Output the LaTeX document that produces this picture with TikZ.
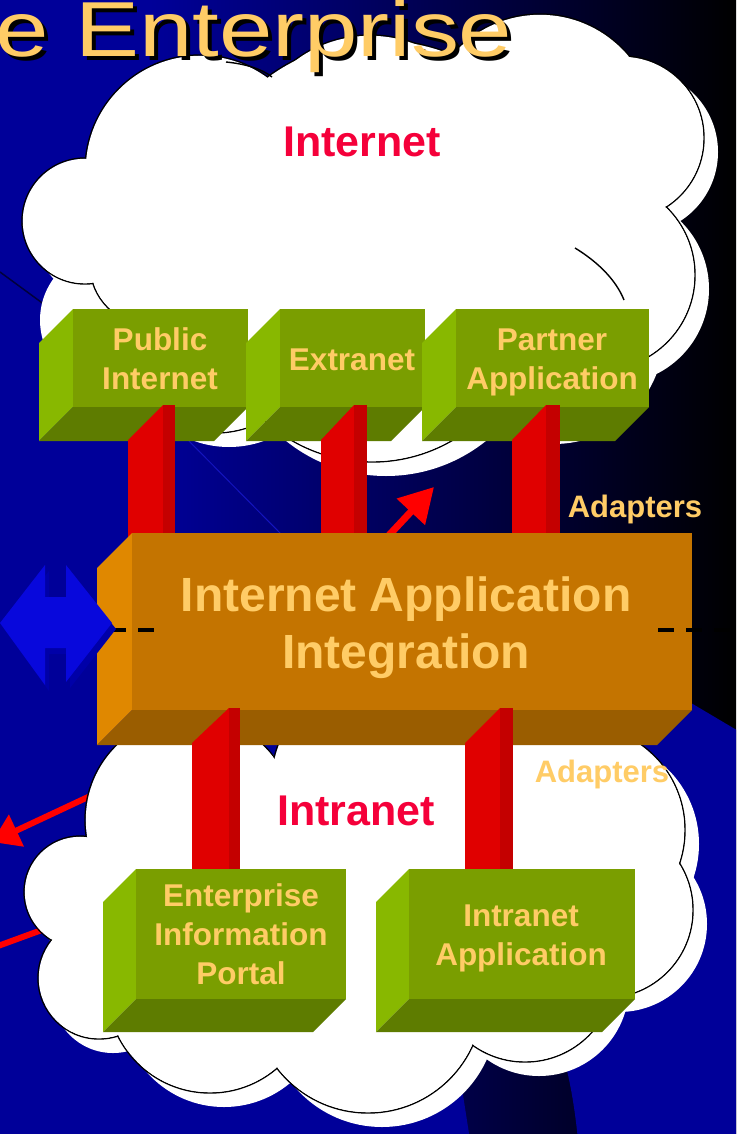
\documentclass[tikz,border=0pt]{standalone}
\usepackage{fontspec}
\usepackage{graphicx}
\setmainfont{Liberation Sans}
\usetikzlibrary{arrows.meta}
\definecolor{bgblue}{HTML}{000099}
\definecolor{ttl}{HTML}{FFCC66}
\definecolor{lbl}{HTML}{F5003A}
\definecolor{gfront}{HTML}{7A9E00}
\definecolor{gleft}{HTML}{88B800}
\definecolor{gbot}{HTML}{5E7C00}
\definecolor{ofront}{HTML}{C47400}
\definecolor{oleft}{HTML}{E08800}
\definecolor{obot}{HTML}{9A5D00}
\definecolor{pred}{HTML}{E00000}
\definecolor{pdark}{HTML}{C40000}
\definecolor{arred}{HTML}{FF0000}
\definecolor{ablue}{HTML}{0808DC}
\definecolor{ablued}{HTML}{0000A8}
\definecolor{faintline}{HTML}{00003C}
\definecolor{lightline}{HTML}{1414BE}

\newcommand\boxthree[8]{%
  \fill[#7] ({#1-#5},{#2+#5}) -- (#1,#2) -- (#1,#4) -- ({#1-#5},{#4+#5}) -- cycle;
  \fill[#8] (#1,#4) -- (#3,#4) -- ({#3-#5},{#4+#5}) -- ({#1-#5},{#4+#5}) -- cycle;
  \fill[#6] (#1,#2) rectangle (#3,#4);}
\newcommand\pillarbar[6]{%
  \fill[pred] (#1,#5) -- (#2,#4) -- (#2,#6) -- (#1,#6) -- cycle;
  \fill[pdark] (#2,#4) rectangle (#3,#6);}
\newcommand\cloudshape[2]{%
  \foreach \cx/\cy/\rr in {#1} \fill[white] ({\cx+14},{\cy+14}) circle[radius=\rr pt];
  \foreach \cx/\cy/\rr in {#2} \fill[white] (\cx,\cy) circle[radius=\rr pt];
  \foreach \cx/\cy/\rr in {#1} \draw[black,line width=1.4pt] (\cx,\cy) circle[radius=\rr pt];
  \foreach \cx/\cy/\rr in {#1} \fill[white] (\cx,\cy) circle[radius={\rr pt-0.8pt}];}

\tikzset{
  boxlabel/.style={inner sep=0pt, anchor=base, align=center, text=ttl,
    font=\fontsize{31.5}{39}\selectfont\bfseries},
  biglabel/.style={inner sep=0pt, anchor=base, align=center, text=ttl,
    font=\fontsize{48}{57}\selectfont\bfseries},
  adlabel/.style={inner sep=0pt, anchor=base, text=ttl,
    font=\fontsize{31}{36}\selectfont\bfseries},
  cloudlabel/.style={inner sep=0pt, anchor=base, text=lbl,
    font=\fontsize{43}{50}\selectfont\bfseries},
  redarrow/.style={draw=arred, line width=7pt, -{Triangle[length=34pt,width=37pt]}},
  redline/.style={draw=arred, line width=6pt},
  dashline/.style={draw=black, line width=4pt, dash pattern=on 16pt off 12pt},
  innerarc/.style={draw=black, line width=1.4pt},
}

\begin{document}
\begin{tikzpicture}[x=1pt,y=-1pt]
\useasboundingbox (0,0) rectangle (736,1134);
\clip (0,0) rectangle (736,1134);

% background
\fill[bgblue] (0,0) rectangle (151,1134);
\shade[left color=bgblue, right color=black] (150,0) rectangle (736,1134);
\fill[bgblue] (686,700) -- (740,732) -- (740,1140) -- (578,1140)
  .. controls (574,1100) and (568,1070) .. (560,1045) -- (470,760) -- cycle;
\fill[bgblue] (140,690) -- (400,690) -- (470,1140) -- (140,1140) -- cycle;
\draw[faintline, line width=1.5pt] (0,272) -- (45,305);
\draw[lightline, line width=1pt] (186,438) -- (282,535);

% red arrows behind the intranet cloud
\coordinate (a2s) at (150,768);
\coordinate (a2e) at (-8,842);
\coordinate (a3s) at (-2,946);
\coordinate (a3e) at (80,916);
\draw[redarrow, line width=6pt, -{Triangle[length=27pt,width=34pt]}] (a2s) -- (a2e);
\draw[redline] (a3s) -- (a3e);

% clouds
\cloudshape{200/170/115, 370/160/125, 540/130/116, 622/138/82, 600/275/95, 85/221/63, 150/265/60, 215/330/103, 372/302/160, 540/320/110, 380/230/190}{110/320/70}
\draw[innerarc] (575,248) .. controls (598,262) and (616,280) .. (624,300);
\draw[innerarc] (226,62) .. controls (246,64) and (262,69) .. (272,77);
\cloudshape{190/820/105, 400/790/130, 580/830/105, 80/892/56, 99/978/61, 210/990/103, 368/998/115, 525/972/90, 605/910/88, 380/900/170}{}

% title
\node[inner sep=0pt, anchor=base west, text=black, font=\fontsize{78}{80}\selectfont] (titleshadow) at (-1,61) {\scalebox{1.23}[1]{e Enterprise}};
\node[inner sep=0pt, anchor=base west, text=ttl, font=\fontsize{78}{80}\selectfont] (title) at (-5,57) {\scalebox{1.23}[1]{e Enterprise}};

\node[cloudlabel] (inet) at (362,157) {Internet};
\node[cloudlabel] (intra) at (356,825) {Intranet};

% upper boxes
\boxthree{73}{309}{248}{407}{34}{gfront}{gleft}{gbot}
\boxthree{280}{309}{425}{407}{34}{gfront}{gleft}{gbot}
\boxthree{456}{309}{649}{407}{34}{gfront}{gleft}{gbot}
\node[boxlabel] (pub) at (160,389) {Public\\Internet};
\node[boxlabel] (ext) at (352,370) {Extranet};
\node[boxlabel] (par) at (552,389) {Partner\\Application};

% upper pillars
\pillarbar{128}{163}{175}{405}{440}{540}
\pillarbar{321}{354}{367}{405}{440}{540}
\pillarbar{512}{546}{560}{405}{440}{540}

% middle red arrow
\coordinate (a1s) at (378,547);
\coordinate (a1e) at (434,487);
\draw[redarrow] (a1s) -- (a1e);

% orange box
\boxthree{132}{533}{692}{710}{35}{ofront}{oleft}{obot}
\node[biglabel] (iai) at (406,668) {Internet Application\\Integration};

% lower pillars
\pillarbar{192}{229}{240}{708}{743}{875}
\pillarbar{465}{500}{513}{708}{743}{875}

% lower boxes
\boxthree{136}{869}{346}{999}{33}{gfront}{gleft}{gbot}
\boxthree{409}{869}{635}{999}{33}{gfront}{gleft}{gbot}
\node[boxlabel] (eip) at (241,984) {Enterprise\\Information\\Portal};
\node[boxlabel] (ina) at (521,965) {Intranet\\Application};

% adapters
\node[adlabel] (ad1) at (635,517) {Adapters};
\node[adlabel] (ad2) at (602,782) {Adapters};

% dashes
\coordinate (d1s) at (110,630);
\coordinate (d1e) at (156,630);
\coordinate (d2s) at (658,630);
\coordinate (d2e) at (742,630);
\draw[dashline] (d1s) -- (d1e);
\draw[dashline] (d2s) -- (d2e);

% blue double arrow
\fill[ablued] (4,629) -- (49,571) -- (49,603) -- (70,603) -- (70,571) -- (116,629) -- (70,688) -- (70,654) -- (49,654) -- (49,691) -- cycle;
\fill[ablue] (0,623) -- (45,565) -- (45,597) -- (66,597) -- (66,565) -- (112,623) -- (66,682) -- (66,648) -- (45,648) -- (45,685) -- cycle;
\end{tikzpicture}
\end{document}
